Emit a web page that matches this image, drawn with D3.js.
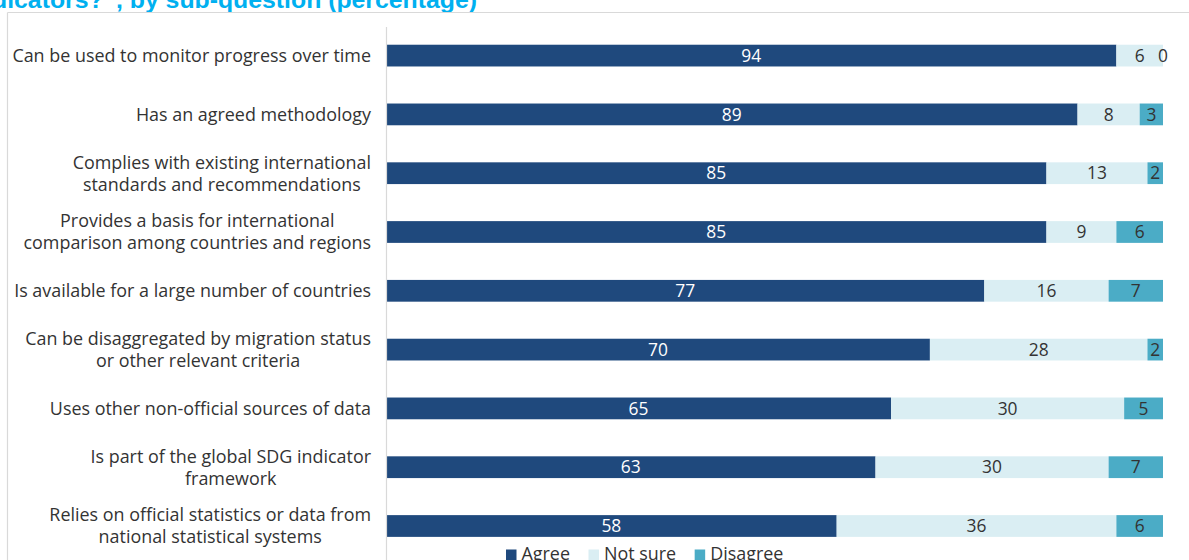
<!DOCTYPE html>
<html>
<head>
<meta charset="utf-8">
<script src="https://cdn.jsdelivr.net/npm/d3@7/dist/d3.min.js"></script>
<style>
  html, body { margin: 0; padding: 0; background: #fff; overflow: hidden; }
  svg { display: block; }
</style>
</head>
<body>
<svg id="chart" width="1189" height="560"></svg>
<script>
// Survey sub-questions (each entry is a list of wrapped lines)
const categories = [
  ["Can be used to monitor progress over time"],
  ["Has an agreed methodology"],
  ["Complies with existing international", "standards and recommendations"],
  ["Provides a basis for international", "comparison among countries and regions"],
  ["Is available for a large number of countries"],
  ["Can be disaggregated by migration status", "or other relevant criteria"],
  ["Uses other non-official sources of data"],
  ["Is part of the global SDG indicator", "framework"],
  ["Relies on official statistics or data from", "national statistical systems"]
];
const agree    = [94, 89, 85, 85, 77, 70, 65, 63, 58];
const notSure  = [6, 8, 13, 9, 16, 28, 30, 30, 36];
const disagree = [0, 3, 2, 6, 7, 2, 5, 7, 6];
const seriesNames = ["Agree", "Not sure", "Disagree"];
const seriesColors = ["#1f497d", "#daeef3", "#4bacc6"];
const labelColors = ["#ffffff", "#333333", "#333333"];
const titleText = "Figure 3: Respondents' views on \u201cAre these good indicators?\u201d, by sub-question (percentage)";

const FONT = "'Open Sans', Lato, sans-serif";
const svg = d3.select("#chart");

// Title (runs off the top edge)
svg.append("text")
  .attr("x", 477).attr("y", 8)
  .attr("text-anchor", "end")
  .attr("font-family", "'Liberation Sans', Arial, sans-serif")
  .attr("font-weight", "bold")
  .attr("font-size", 24.8)
  .attr("fill", "#00b0f0")
  .text(titleText);

// Chart frame
const frame = "#d9d9d9";
svg.append("line").attr("x1", 7.5).attr("x2", 7.5).attr("y1", 12.5).attr("y2", 560)
  .attr("stroke", frame).attr("stroke-width", 1.2);
svg.append("line").attr("x1", 7.5).attr("x2", 1189).attr("y1", 12.5).attr("y2", 12.5)
  .attr("stroke", frame).attr("stroke-width", 1.2);

const x = d3.scaleLinear().domain([0, 100]).range([386, 1163]);
const y = d3.scaleBand()
  .domain(d3.range(categories.length))
  .range([26.2, 555.4])
  .paddingInner(0.63)
  .paddingOuter(0.315);

const rows = categories.map((c, i) => ({ i, vals: [agree[i], notSure[i], disagree[i]] }));
const stack = d3.stack().keys([0, 1, 2]).value((d, k) => d.vals[k]);
const layers = stack(rows);

// Bars
const g = svg.append("g");
layers.forEach((layer, k) => {
  g.selectAll(null).data(layer).enter().append("rect")
    .attr("x", d => x(d[0]))
    .attr("y", d => y(d.data.i))
    .attr("width", d => x(d[1]) - x(d[0]))
    .attr("height", y.bandwidth())
    .attr("fill", seriesColors[k]);
});

// Category axis line
svg.append("line")
  .attr("x1", 386.5).attr("x2", 386.5).attr("y1", 27).attr("y2", 560)
  .attr("stroke", frame).attr("stroke-width", 1.2);

// Label font size: the first category line spans 359px
const probe = svg.append("text").attr("font-family", FONT).attr("font-size", 16)
  .text(categories[0][0]);
const labelSize = 16 * 359 / probe.node().getComputedTextLength();
probe.remove();

// Value labels
const valSize = labelSize * 0.97;
layers.forEach((layer, k) => {
  g.selectAll(null).data(layer).enter().append("text")
    .attr("x", d => (x(d[0]) + x(d[1])) / 2)
    .attr("y", d => y(d.data.i) + y.bandwidth() / 2)
    .attr("dy", "0.36em")
    .attr("text-anchor", "middle")
    .attr("font-family", FONT)
    .attr("font-size", valSize)
    .attr("fill", labelColors[k])
    .text(d => d.data.vals[k]);
});

// Category labels: right edge of each wrapped block at x = 371, lines centred within the block
const lineGap = 22;
const labelRight = 371;
categories.forEach((lines, i) => {
  const cy = y(i) + y.bandwidth() / 2;
  const grp = svg.append("g");
  const texts = lines.map((ln, j) => grp.append("text")
    .attr("y", cy + (j - (lines.length - 1) / 2) * lineGap)
    .attr("dy", "0.36em")
    .attr("font-family", FONT)
    .attr("font-size", labelSize)
    .attr("fill", "#333333")
    .text(ln));
  const maxW = d3.max(texts, t => t.node().getComputedTextLength());
  texts.forEach(t => t.attr("text-anchor", "middle").attr("x", labelRight - maxW / 2));
});

// Legend
const legend = svg.append("g");
let lx = 506;
seriesNames.forEach((name, k) => {
  legend.append("rect")
    .attr("x", lx).attr("y", 549.5).attr("width", 10.5).attr("height", 10.5)
    .attr("fill", seriesColors[k]);
  const t = legend.append("text")
    .attr("x", lx + 15.5).attr("y", 559.5)
    .attr("font-family", FONT)
    .attr("font-size", labelSize)
    .attr("fill", "#333333")
    .text(name);
  lx += 15.5 + t.node().getComputedTextLength() + 18.5;
});
</script>
</body>
</html>
